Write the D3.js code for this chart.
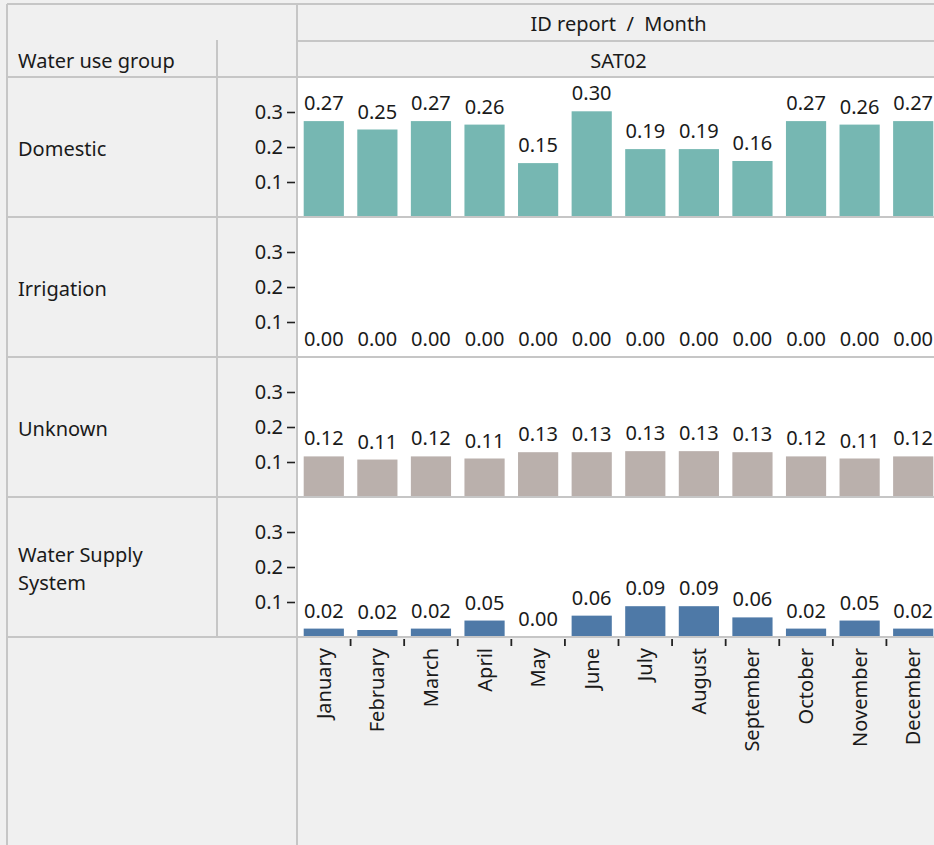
<!DOCTYPE html>
<html>
<head>
<meta charset="utf-8">
<script src="https://cdn.jsdelivr.net/npm/d3@7"></script>
<style>
  html, body { margin: 0; padding: 0; background: #f0f0f0; }
  svg { display: block; }
  text { font-family: "Noto Sans", "Open Sans", sans-serif; fill: #1a1a1a; }
</style>
</head>
<body>
<svg id="chart" width="934" height="845"></svg>
<script>
// ---- data ----
const months = ["January","February","March","April","May","June","July","August","September","October","November","December"];
const groups = ["Domestic","Irrigation","Unknown","Water Supply System"];
const groupLabelLines = [["Domestic"],["Irrigation"],["Unknown"],["Water Supply","System"]];
const domestic    = [0.274,0.250,0.274,0.264,0.154,0.302,0.194,0.194,0.160,0.274,0.264,0.274];
const irrigation  = [0,0,0,0,0,0,0,0,0,0,0,0];
const unknown     = [0.116,0.107,0.116,0.110,0.128,0.128,0.131,0.131,0.128,0.116,0.110,0.116];
const waterSupply = [0.024,0.020,0.024,0.047,0.000,0.061,0.088,0.088,0.056,0.024,0.047,0.024];
const seriesValues = [domestic, irrigation, unknown, waterSupply];
const groupColors = ["#76b7b2","#f28e2b","#bab0ac","#4e79a7"];
const yTicks = [0.1, 0.2, 0.3];
const headerTitle = "ID report  /  Month";
const subHeader = "SAT02";
const rowHeader = "Water use group";

// ---- layout ----
const svg = d3.select("#chart");
const W = 934, H = 845;
const leftX = 7, topY = 4, colSplit = 217, plotX = 297, plotRight = 940;
const headRow1 = 41, panelsTop = 77, panelH = 140;
const panelsBottom = panelsTop + panelH * groups.length;
const lineColor = "#c6c6c6";
const fs = 20;

const x = d3.scaleBand().domain(months).range([plotX, plotRight]).paddingInner(0.25).paddingOuter(0.125);
const fmt = d3.format(".2f");

// plot area background
svg.append("rect").attr("x", plotX).attr("y", panelsTop).attr("width", plotRight - plotX).attr("height", panelsBottom - panelsTop).attr("fill", "#ffffff");

groups.forEach((g, gi) => {
  const y0 = panelsTop + gi * panelH;
  const y = d3.scaleLinear().domain([0, 0.4]).range([y0 + panelH, y0]);
  const vals = seriesValues[gi];
  const gp = svg.append("g");
  gp.selectAll("rect.bar").data(months).join("rect")
    .attr("class", "bar")
    .attr("x", d => x(d))
    .attr("width", x.bandwidth())
    .attr("y", (d, i) => y(vals[i]))
    .attr("height", (d, i) => y(0) - y(vals[i]))
    .attr("fill", groupColors[gi]);
  gp.selectAll("text.val").data(months).join("text")
    .attr("class", "val")
    .attr("x", d => x(d) + x.bandwidth() / 2)
    .attr("y", (d, i) => y(vals[i]) - 11)
    .attr("text-anchor", "middle")
    .attr("font-size", fs)
    .text((d, i) => fmt(vals[i]));

  // y axis
  const ax = svg.append("g").attr("transform", `translate(${plotX - 2},0)`)
    .call(d3.axisLeft(y).tickValues(yTicks).tickSize(8).tickPadding(4).tickFormat(d3.format(".1f")));
  ax.select(".domain").remove();
  ax.selectAll(".tick line").attr("stroke", "#222").attr("stroke-width", 1.6);
  ax.selectAll(".tick text").attr("font-size", fs).attr("font-family", "Noto Sans").attr("fill", "#1a1a1a");

  // group label
  const lines = groupLabelLines[gi];
  const cy = y0 + panelH / 2;
  const lh = 28;
  lines.forEach((ln, li) => {
    svg.append("text")
      .attr("x", 18)
      .attr("y", cy + 9 + (li - (lines.length - 1) / 2) * lh)
      .attr("font-size", fs)
      .text(ln);
  });
});

// x axis ticks at band boundaries
const step = x.step();
const bounds = months.slice(1).map(m => x(m) - (step - x.bandwidth()) / 2);
svg.selectAll("line.xt").data(bounds).join("line")
  .attr("class", "xt")
  .attr("x1", d => d).attr("x2", d => d)
  .attr("y1", panelsBottom + 2).attr("y2", panelsBottom + 9)
  .attr("stroke", "#222").attr("stroke-width", 1.8);

svg.selectAll("text.month").data(months).join("text")
  .attr("class", "month")
  .attr("transform", d => `translate(${x(d) + x.bandwidth() / 2 + 7},${panelsBottom + 11}) rotate(-90)`)
  .attr("text-anchor", "end")
  .attr("font-size", fs)
  .text(d => d);

// header texts
const hx = (plotX + plotRight) / 2;
svg.append("text").attr("x", hx).attr("y", 31).attr("text-anchor", "middle").attr("font-size", fs)
  .style("white-space", "pre").text(headerTitle);
svg.append("text").attr("x", hx).attr("y", 68).attr("text-anchor", "middle").attr("font-size", fs).text(subHeader);
svg.append("text").attr("x", 18).attr("y", 68).attr("font-size", fs).text(rowHeader);

// grid / border lines
const gl = svg.append("g").attr("stroke", lineColor).attr("stroke-width", 2).attr("fill", "none");
gl.append("line").attr("x1", leftX).attr("x2", W).attr("y1", topY).attr("y2", topY);
gl.append("line").attr("x1", leftX).attr("x2", leftX).attr("y1", topY).attr("y2", H);
gl.append("line").attr("x1", plotX).attr("x2", plotX).attr("y1", topY).attr("y2", H);
gl.append("line").attr("x1", colSplit).attr("x2", colSplit).attr("y1", headRow1 - 1).attr("y2", panelsBottom);
gl.append("line").attr("x1", plotX).attr("x2", W).attr("y1", headRow1).attr("y2", headRow1);
for (let i = 0; i <= groups.length; i++) {
  const yy = panelsTop + i * panelH;
  gl.append("line").attr("x1", leftX).attr("x2", W).attr("y1", yy).attr("y2", yy);
}
</script>
</body>
</html>
